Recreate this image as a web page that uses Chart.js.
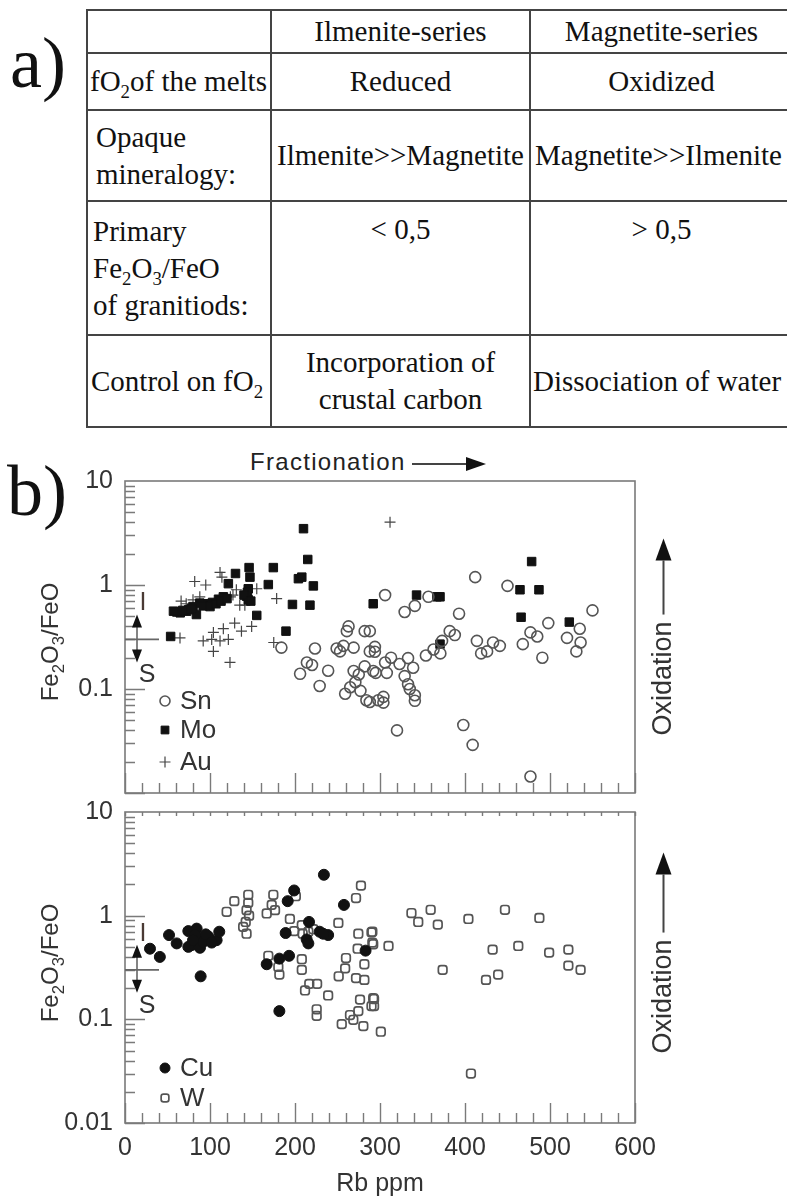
<!DOCTYPE html>
<html>
<head>
<meta charset="utf-8">
<script src="https://cdn.jsdelivr.net/npm/chart.js@4.4.1/dist/chart.umd.min.js"></script>
<style>
  body { margin: 0; background: #fff; }
  #page { position: relative; width: 787px; height: 1200px; overflow: hidden; background: #fff; }
  .abs { position: absolute; }
  .serif { font-family: 'Liberation Serif', 'Times New Roman', serif; color: #111; }
  .sans { font-family: 'Liberation Sans', Arial, sans-serif; color: #333; }
  #tbl { position: absolute; left: 86px; top: 9px; border-collapse: collapse; table-layout: fixed; width: 706px;
         font-family: 'Liberation Serif', 'Times New Roman', serif; font-size: 29px; color: #111; }
  #tbl td { border: 2.5px solid #444; padding: 0 3px; line-height: 37px; text-align: center; vertical-align: middle; white-space: nowrap; }
  #tbl td.l { text-align: left; padding-left: 5px; }
  #tbl td.t { vertical-align: top; padding-top: 9px; }
  #tbl sub { font-size: 65%; line-height: 0; }
  .rot { transform: translate(-50%, -50%) rotate(-90deg); white-space: nowrap; }
  .rot sub { font-size: 70%; line-height: 0; }
  .arrowline { display: inline-block; height: 2px; background: #444; vertical-align: middle; }
  .head { display: inline-block; width: 0; height: 0; border-top: 7px solid transparent; border-bottom: 7px solid transparent; border-left: 20px solid #111; vertical-align: middle; }
  .head.big { border-top-width: 8px; border-bottom-width: 8px; border-left-width: 22px; }
  canvas { position: absolute; left: 0; }
</style>
</head>
<body>
<div id="page">
  <div class="abs serif" style="left:10px; top:27px; font-size:72px; line-height:1;">a)</div>
  <table id="tbl">
    <colgroup><col style="width:184px"><col style="width:259px"><col style="width:263px"></colgroup>
    <tr style="height:43px"><td></td><td>Ilmenite-series</td><td>Magnetite-series</td></tr>
    <tr style="height:57px"><td class="l" style="padding-left:2px">fO<sub>2</sub>of the melts</td><td>Reduced</td><td>Oxidized</td></tr>
    <tr style="height:91px"><td class="l" style="padding-left:8px">Opaque<br>mineralogy:</td><td>Ilmenite&gt;&gt;Magnetite</td><td style="text-align:left;padding-left:4px">Magnetite&gt;&gt;Ilmenite</td></tr>
    <tr style="height:134px"><td class="l">Primary<br>Fe<sub>2</sub>O<sub>3</sub>/FeO<br>of granitiods:</td><td class="t">&lt; 0,5</td><td class="t">&gt; 0,5</td></tr>
    <tr style="height:92px"><td class="l" style="padding-left:3px">Control on fO<sub>2</sub></td><td>Incorporation of<br>crustal carbon</td><td style="text-align:left;padding-left:2px">Dissociation of water</td></tr>
  </table>

  <div class="abs serif" style="left:7px; top:455px; font-size:72px; line-height:1;">b)</div>
  <div class="abs sans" style="left:250px; top:449px; font-size:24px; line-height:26px; letter-spacing:1.3px; color:#222;">Fractionation<span class="arrowline" style="width:54px; margin-left:6px;"></span><span class="head"></span></div>

  <canvas id="topChart" width="787" height="380" style="top:440px"></canvas>
  <canvas id="bottomChart" width="787" height="415" style="top:785px"></canvas>

  <div class="abs sans rot" style="left:50px; top:642px; font-size:24px;">Fe<sub>2</sub>O<sub>3</sub>/FeO</div>
  <div class="abs sans rot" style="left:50px; top:963px; font-size:24px;">Fe<sub>2</sub>O<sub>3</sub>/FeO</div>

  <div class="abs sans rot" style="left:662px; top:637px; font-size:27px;">Oxidation<span class="arrowline" style="width:54px; margin-left:7px;"></span><span class="head big"></span></div>
  <div class="abs sans rot" style="left:662px; top:953px; font-size:27px;">Oxidation<span class="arrowline" style="width:58px; margin-left:7px;"></span><span class="head big"></span></div>
</div>

<script>
// ---- data (Rb ppm vs Fe2O3/FeO) ----
const snRb = [184, 223.5, 263, 261, 282, 288, 249, 257, 269, 288, 253, 214, 220, 206, 239, 229,
  269, 275, 282, 292, 271, 265, 277, 259, 284, 298,
  306, 329, 341, 357, 412, 450, 393, 550, 498, 477, 485, 468, 491, 520, 535, 536, 531,
  414, 433, 441, 426, 419, 382, 388, 373, 371, 363, 354,
  294, 294, 306, 313, 295, 308, 323, 333, 339, 329, 333, 335, 341, 341, 304, 304, 288,
  320, 398, 409, 477];
const snRatio = [0.25, 0.245, 0.40, 0.36, 0.36, 0.36, 0.245, 0.26, 0.25, 0.23, 0.23, 0.18, 0.17, 0.14, 0.15, 0.107,
  0.149, 0.138, 0.165, 0.149, 0.116, 0.104, 0.096, 0.090, 0.078, 0.078,
  0.80, 0.55, 0.63, 0.77, 1.19, 0.98, 0.53, 0.57, 0.43, 0.35, 0.32, 0.27, 0.20, 0.31, 0.38, 0.28, 0.23,
  0.29, 0.28, 0.26, 0.23, 0.22, 0.36, 0.33, 0.29, 0.22, 0.24, 0.21,
  0.254, 0.228, 0.18, 0.20, 0.143, 0.143, 0.174, 0.198, 0.16, 0.133, 0.111, 0.10, 0.087, 0.077, 0.084, 0.074, 0.075,
  0.040, 0.045, 0.029, 0.0144];

const moRb = [210, 215, 174.5, 146, 130, 147, 204, 208, 221.6, 168.6, 121.6, 145, 144, 143, 145,
  115.7, 110, 103, 97, 88, 80, 72.5, 65, 61, 57, 84, 155, 197, 217.6, 189.4, 53.7,
  75, 92, 100, 107, 68, 78, 113, 120, 140, 148,
  292, 343, 367, 370.6, 370.6, 478.4, 464.7, 487, 466, 522.7];
const moRatio = [3.48, 1.76, 1.47, 1.47, 1.29, 1.19, 1.15, 1.19, 0.98, 1.01, 1.03, 0.92, 0.85, 0.78, 0.72,
  0.77, 0.73, 0.68, 0.66, 0.67, 0.62, 0.56, 0.54, 0.55, 0.56, 0.52, 0.51, 0.65, 0.64, 0.36, 0.32,
  0.58, 0.63, 0.62, 0.66, 0.57, 0.59, 0.70, 0.74, 0.80, 0.70,
  0.66, 0.80, 0.77, 0.77, 0.27, 1.68, 0.90, 0.90, 0.49, 0.44];

const auRb = [311.8, 111.8, 82, 95, 114, 131, 127, 124, 155, 178.4, 66, 72, 80, 88, 99.4, 107, 135,
  149, 137, 129, 115.7, 104, 121.6, 111.8, 102, 92, 104, 123.5, 64.7, 175, 141];
const auRatio = [4.02, 1.32, 1.08, 1.0, 1.19, 0.9, 0.8, 0.77, 0.92, 0.74, 0.70, 0.66, 0.72, 0.77, 0.64, 0.70, 0.64,
  0.40, 0.36, 0.43, 0.38, 0.35, 0.30, 0.29, 0.30, 0.29, 0.23, 0.18, 0.31, 0.28, 0.64];

const cuRb = [29.4, 41, 51.8, 60.8, 74.5, 84.3, 78.4, 86.3, 88.2, 98, 107.8, 110.9, 82.4, 74.5, 92, 95, 80, 102,
  89, 234, 199, 191.4, 257.6, 216.5, 189, 213.7, 215.7, 229, 239, 233, 283, 166.7, 181.6, 193, 181.6];
const cuRatio = [0.48, 0.40, 0.65, 0.54, 0.71, 0.75, 0.52, 0.60, 0.49, 0.63, 0.58, 0.70, 0.65, 0.50, 0.56, 0.66, 0.58, 0.55,
  0.26, 2.48, 1.75, 1.38, 1.27, 0.87, 0.68, 0.59, 0.54, 0.70, 0.65, 0.67, 0.46, 0.34, 0.385, 0.41, 0.12];

const wRb = [119.6, 128.6, 145, 145, 143, 146, 142, 139, 143, 174.5, 172.6, 176.5, 166.7, 201, 194, 199, 208, 209,
  215.7, 221.6, 251, 277.6, 271.8, 274.5, 290, 273.7, 291, 260, 281.6, 259, 251.4, 271.8, 281.6,
  168.6, 180.4, 181.6, 208, 208, 216.8, 226, 211.8, 239, 225.5, 225.5, 276.5, 292, 290, 274.5, 264.7, 255, 268.6, 280.4,
  291, 292, 310, 293, 293, 301, 337, 345, 359.6, 368, 404, 447, 487.5, 373.7, 432.5, 462.7, 424.7, 439,
  499, 521.6, 521.6, 536, 407];
const wRatio = [1.09, 1.38, 1.59, 1.33, 1.13, 1.0, 0.87, 0.78, 0.67, 1.59, 1.27, 1.13, 1.05, 1.54, 0.93, 0.71, 0.81, 0.67,
  0.70, 0.74, 0.85, 1.95, 1.48, 0.67, 0.69, 0.48, 0.55, 0.39, 0.34, 0.31, 0.26, 0.25, 0.24,
  0.41, 0.32, 0.27, 0.38, 0.30, 0.22, 0.22, 0.19, 0.17, 0.125, 0.108, 0.155, 0.16, 0.134, 0.12, 0.11, 0.09, 0.099, 0.086,
  0.70, 0.53, 0.51, 0.157, 0.134, 0.076, 1.06, 0.87, 1.14, 0.82, 0.93, 1.14, 0.95, 0.30, 0.47, 0.51, 0.24, 0.27,
  0.44, 0.47, 0.33, 0.30, 0.030];

// axes
const xMin = 0, xMax = 600, xStep = 100, xMinorStep = 20;
const yMin = 0.01, yMax = 10;
const yTickValues = [0.01, 0.1, 1, 10];
const yLabelsTop = ['', '0.1', '1', '10'];
const yLabelsBottom = ['0.01', '0.1', '1', '10'];
const isBoundary = 0.3;   // I / S type boundary

const pts = (xs, ys) => xs.map((v, i) => ({ x: v, y: ys[i] }));

Chart.defaults.font.family = "'Liberation Sans', Arial, sans-serif";
Chart.defaults.color = '#333';

// frame, inward ticks, I/S marker and in-plot legend
const panelDeco = {
  id: 'panelDeco',
  afterDraw(chart, args, opts) {
    const { ctx, chartArea: a } = chart;
    const x = chart.scales.x, y = chart.scales.y;
    ctx.save();
    ctx.strokeStyle = '#7a7a7a';
    ctx.lineWidth = 1.6;
    ctx.strokeRect(a.left, a.top, a.width, a.height);

    ctx.lineWidth = 1.4;
    ctx.beginPath();
    for (const d of [0.01, 0.1, 1]) {
      for (let k = 1; k <= 9; k++) {
        const py = Math.round(y.getPixelForValue(d * k)) + 0.5;
        ctx.moveTo(a.left, py);
        ctx.lineTo(a.left + (k === 1 ? 20 : 10), py);
      }
    }
    for (let r = xMin; r <= xMax; r += xMinorStep) {
      const px = Math.round(x.getPixelForValue(r)) + 0.5;
      ctx.moveTo(px, a.bottom);
      ctx.lineTo(px, a.bottom - (r % xStep === 0 ? 20 : 10));
      if (opts.topTicks) {
        ctx.moveTo(px, a.top);
        ctx.lineTo(px, a.top + 4);
      }
    }
    ctx.stroke();

    // I / S marker
    const yb = y.getPixelForValue(isBoundary);
    const ax = a.left + 12;
    ctx.strokeStyle = '#666';
    ctx.lineWidth = 1.6;
    ctx.beginPath();
    ctx.moveTo(a.left, yb);
    ctx.lineTo(a.left + 34, yb);
    ctx.moveTo(ax, yb - 14);
    ctx.lineTo(ax, yb + 12);
    ctx.stroke();
    ctx.fillStyle = '#111';
    ctx.beginPath();
    ctx.moveTo(ax, yb - 25); ctx.lineTo(ax - 5, yb - 12); ctx.lineTo(ax + 5, yb - 12); ctx.closePath();
    ctx.moveTo(ax, yb + 23); ctx.lineTo(ax - 5, yb + 10); ctx.lineTo(ax + 5, yb + 10); ctx.closePath();
    ctx.fill();
    ctx.font = "25px 'Liberation Sans', Arial, sans-serif";
    ctx.textAlign = 'center';
    ctx.textBaseline = 'middle';
    ctx.fillStyle = '#4a3a34';
    ctx.fillText('I', a.left + 18, yb - 36);
    ctx.fillStyle = '#333';
    ctx.fillText('S', a.left + 22, yb + 36);

    // legend
    ctx.font = "26px 'Liberation Sans', Arial, sans-serif";
    ctx.textAlign = 'left';
    chart.data.datasets.forEach((ds, i) => {
      const lx = a.left + opts.legendX;
      const ly = a.top + opts.legendY[i];
      ctx.fillStyle = ds.backgroundColor;
      ctx.strokeStyle = ds.borderColor;
      ctx.lineWidth = ds.borderWidth;
      Chart.helpers.drawPoint(ctx, { pointStyle: ds.pointStyle, radius: ds.legendRadius, rotation: 0, borderWidth: ds.borderWidth }, lx, ly);
      ctx.fillStyle = '#333';
      ctx.fillText(ds.label, lx + 15, ly + 1);
    });
    ctx.restore();
  }
};

function makePanel(canvasId, datasets, cfg) {
  return new Chart(document.getElementById(canvasId), {
    type: 'scatter',
    data: { datasets: datasets },
    options: {
      responsive: false,
      animation: false,
      layout: { padding: cfg.padding },
      plugins: {
        legend: { display: false },
        tooltip: { enabled: false },
        panelDeco: cfg.deco
      },
      scales: {
        x: {
          type: 'linear', min: xMin, max: xMax,
          display: cfg.showX,
          afterFit: s => { s.height = cfg.xHeight; },
          ticks: { stepSize: xStep, font: { size: 25 }, color: '#333', padding: 10, maxRotation: 0 },
          grid: { display: false, drawTicks: false },
          border: { display: false },
          title: { display: cfg.showX, text: 'Rb ppm', font: { size: 25 }, color: '#333', padding: { top: 0, bottom: 1 } }
        },
        y: {
          type: 'logarithmic', min: yMin, max: yMax,
          afterFit: s => { s.width = 125; },
          afterBuildTicks: s => { s.ticks = yTickValues.map(v => ({ value: v })); },
          ticks: { autoSkip: false, font: { size: 25 }, color: '#333', padding: 12, callback: (v, i) => cfg.yLabels[i] },
          grid: { display: false, drawTicks: false },
          border: { display: false }
        }
      }
    },
    plugins: [panelDeco]
  });
}

makePanel('topChart', [
  { label: 'Sn', data: pts(snRb, snRatio), pointStyle: 'circle', pointRadius: 5.5, legendRadius: 5,
    backgroundColor: 'rgba(0,0,0,0)', borderColor: '#555', borderWidth: 1.6 },
  { label: 'Mo', data: pts(moRb, moRatio), pointStyle: 'rect', pointRadius: 6, legendRadius: 5.5,
    backgroundColor: '#111', borderColor: '#111', borderWidth: 1 },
  { label: 'Au', data: pts(auRb, auRatio), pointStyle: 'cross', pointRadius: 5.5, legendRadius: 5.5,
    backgroundColor: '#444', borderColor: '#444', borderWidth: 1.2 }
], {
  padding: { left: 0, right: 152, top: 41, bottom: 18 },
  showX: false, xHeight: 0, yLabels: yLabelsTop,
  deco: { topTicks: false, legendX: 40, legendY: [220, 249, 281] }
});

makePanel('bottomChart', [
  { label: 'Cu', data: pts(cuRb, cuRatio), pointStyle: 'circle', pointRadius: 5.5, legendRadius: 5,
    backgroundColor: '#111', borderColor: '#111', borderWidth: 1 },
  { label: 'W', data: pts(wRb, wRatio), pointStyle: 'rectRounded', pointRadius: 5, legendRadius: 4.5,
    backgroundColor: 'rgba(0,0,0,0)', borderColor: '#555', borderWidth: 1.7 }
], {
  padding: { left: 0, right: 152, top: 17, bottom: 0 },
  showX: true, xHeight: 77, yLabels: yLabelsBottom,
  deco: { topTicks: true, legendX: 40, legendY: [256, 286] }
});
</script>
</body>
</html>
